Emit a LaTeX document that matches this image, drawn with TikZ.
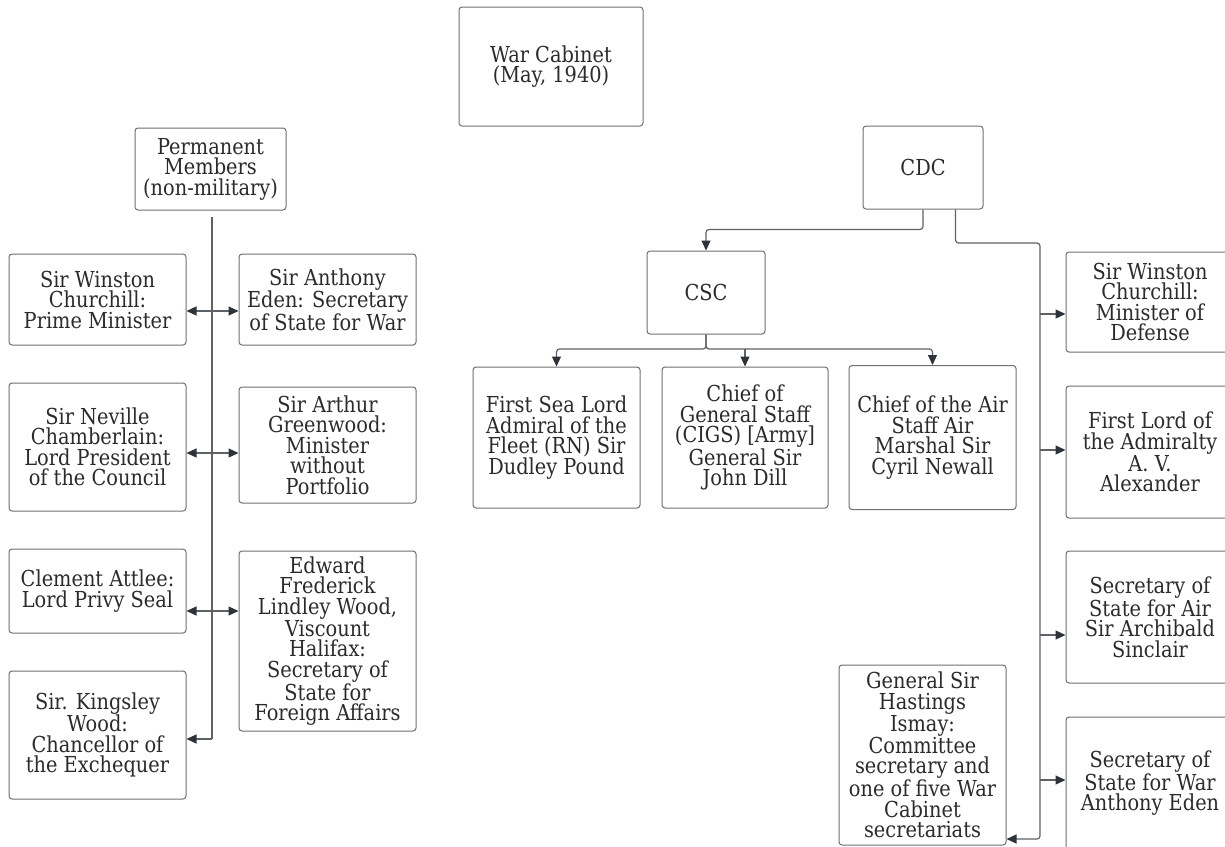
\documentclass[tikz,border=0pt]{standalone}
\usepackage{fontspec}
\setmainfont{DejaVu Serif}[FakeStretch=0.88]
\usetikzlibrary{arrows.meta}
\definecolor{boxgray}{HTML}{707070}
\definecolor{linegray}{HTML}{5E6166}
\definecolor{tipgray}{HTML}{2E3339}
\definecolor{textgray}{HTML}{2B2B2B}
\begin{document}
\begin{tikzpicture}[x=1pt,y=-1pt,
  box/.style={draw=boxgray,line width=1pt,rounded corners=3pt,align=center,text=textgray,inner sep=0pt,font=\fontsize{22}{20.5}\selectfont},
  link/.style={draw=linegray,line width=1.2pt,rounded corners=3pt},
  >={Triangle[length=10pt,width=9pt,color=tipgray]}]
\clip (0,0) rectangle (1225,846);
\fill[white] (0,0) rectangle (1225,846);

\node[box,minimum width=184pt,minimum height=119pt] (cab) at (551,66.5) {War Cabinet\\(May, 1940)};

\node[box,minimum width=151pt,minimum height=82pt] (perm) at (210.5,169) {Permanent\\Members\\(non-military)};
\node[box,minimum width=177pt,minimum height=91pt] (pm) at (97.5,299.5) {Sir Winston\\Churchill:\\Prime Minister};
\node[box,minimum width=177pt,minimum height=91pt] (eden) at (327.5,299.5) {Sir Anthony\\Eden: Secretary\\of State for War};
\node[box,minimum width=177pt,minimum height=128pt] (nev) at (97.5,447) {Sir Neville\\Chamberlain:\\Lord President\\of the Council};
\node[box,minimum width=177pt,minimum height=116pt] (green) at (327.5,445) {Sir Arthur\\Greenwood:\\Minister\\without\\Portfolio};
\node[box,minimum width=177pt,minimum height=84pt] (attlee) at (97.5,591) {Clement Attlee:\\Lord Privy Seal};
\node[box,minimum width=177pt,minimum height=180pt] (hal) at (327.5,641) {Edward\\Frederick\\Lindley Wood,\\Viscount\\Halifax:\\Secretary of\\State for\\Foreign Affairs};
\node[box,minimum width=177pt,minimum height=128pt] (kw) at (97.5,735) {Sir. Kingsley\\Wood:\\Chancellor of\\the Exchequer};

\node[box,minimum width=120pt,minimum height=83pt] (cdc) at (923,167.5) {CDC};
\node[box,minimum width=118pt,minimum height=83pt] (csc) at (706,292.5) {CSC};
\node[box,minimum width=167pt,minimum height=141pt] (fsl) at (556.5,437.5) {First Sea Lord\\Admiral of the\\Fleet (RN) Sir\\Dudley Pound};
\node[box,minimum width=166pt,minimum height=141pt] (cigs) at (745,437.5) {Chief of\\General Staff\\(CIGS) [Army]\\General Sir\\John Dill};
\node[box,minimum width=167pt,minimum height=144pt] (cas) at (932.5,437.5) {Chief of the Air\\Staff Air\\Marshal Sir\\Cyril Newall};
\node[box,minimum width=167pt,minimum height=180pt] (ism) at (922.5,755) {General Sir\\Hastings\\Ismay:\\Committee\\secretary and\\one of five War\\Cabinet\\secretariats};
\node[box,minimum width=168pt,minimum height=100pt] (wcd) at (1150,302) {Sir Winston\\Churchill:\\Minister of\\Defense};
\node[box,minimum width=168pt,minimum height=132pt] (fla) at (1150,452) {First Lord of\\the Admiralty\\A. V.\\Alexander};
\node[box,minimum width=168pt,minimum height=132pt] (ssa) at (1150,617) {Secretary of\\State for Air\\Sir Archibald\\Sinclair};
\node[box,minimum width=168pt,minimum height=133pt] (ssw) at (1150,783.5) {Secretary of\\State for War\\Anthony Eden};

\coordinate (ptop) at (212,217);
\coordinate (pbot) at (212,739);
\coordinate (j1) at (212,311);
\coordinate (j2) at (212,453);
\coordinate (j3) at (212,611);
\draw[link] (ptop) -- (pbot);
\draw[link,<->] (pm.east |- j1) -- (eden.west |- j1);
\draw[link,<->] (nev.east |- j2) -- (green.west |- j2);
\draw[link,<->] (attlee.east |- j3) -- (hal.west |- j3);
\draw[link,->] (pbot) -- (kw.east |- pbot);

\coordinate (bus) at (706,349);
\draw[link,->] (cdc.south) -- ++(0,20) -| (csc.north);
\draw[link,->] (csc.south) |- (fsl.north |- bus) -- (fsl.north);
\draw[link,->] (csc.south) |- (cas.north |- bus) -- (cas.north);
\draw[link,->] (cigs.north |- bus) -- (cigs.north);

\coordinate (rtop) at (1040,243);
\coordinate (rbot) at (1040,839);
\coordinate (b1) at (1040,314);
\coordinate (b2) at (1040,450);
\coordinate (b3) at (1040,635);
\coordinate (b4) at (1040,780);
\draw[link,->] ([xshift=-28pt]cdc.south east) |- (rtop) -- (rbot) -- (ism.east |- rbot);
\draw[link,->] (b1) -- (wcd.west |- b1);
\draw[link,->] (b2) -- (fla.west |- b2);
\draw[link,->] (b3) -- (ssa.west |- b3);
\draw[link,->] (b4) -- (ssw.west |- b4);

\end{tikzpicture}
\end{document}
